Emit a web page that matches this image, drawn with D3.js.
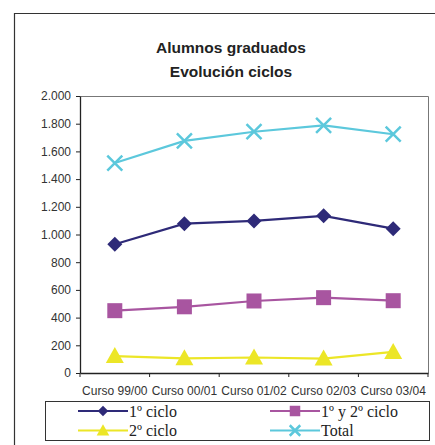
<!DOCTYPE html>
<html>
<head>
<meta charset="utf-8" />
<script src="https://cdn.jsdelivr.net/npm/d3@7"></script>
<style>
  body { margin: 0; background: #fff; }
  svg { display: block; }
</style>
</head>
<body>
<svg id="chart" width="435" height="445"></svg>
<script>
var cursos = ['Curso 99/00', 'Curso 00/01', 'Curso 01/02', 'Curso 02/03', 'Curso 03/04'];
var ciclo1 = [930, 1078, 1098, 1135, 1042];
var ciclo12 = [450, 478, 520, 544, 522];
var ciclo2 = [122, 106, 112, 104, 152];
var total = [1516, 1676, 1742, 1788, 1724];
var yTicks = [0, 200, 400, 600, 800, 1000, 1200, 1400, 1600, 1800, 2000];

var series = [
  {name: '1º ciclo', values: ciclo1, color: '#2e2a78', shape: 'diamond'},
  {name: '1º y 2º ciclo', values: ciclo12, color: '#a855a0', shape: 'square'},
  {name: '2º ciclo', values: ciclo2, color: '#ece627', shape: 'triangle'},
  {name: 'Total', values: total, color: '#5cc8dc', shape: 'cross'}
];

var plotL = 80, plotR = 428, plotT = 96, plotB = 373;
var svg = d3.select('#chart');
var sans = 'Arial, "Liberation Sans", sans-serif';

// outer frame
svg.append('path').attr('d', 'M14.5,450 V13.5 H440')
  .attr('fill', 'none').attr('stroke', '#333').attr('stroke-width', 1.2);

// title
svg.append('text').attr('x', 231).attr('y', 53).attr('text-anchor', 'middle')
  .attr('font-family', sans).attr('font-size', 15.5).attr('font-weight', 'bold').attr('fill', '#222')
  .text('Alumnos graduados');
svg.append('text').attr('x', 231).attr('y', 77).attr('text-anchor', 'middle')
  .attr('font-family', sans).attr('font-size', 15.5).attr('font-weight', 'bold').attr('fill', '#222')
  .text('Evolución ciclos');

var x = d3.scaleBand().domain(cursos).range([plotL, plotR]);
var y = d3.scaleLinear().domain([0, 2000]).range([plotB, plotT]);

// plot border
svg.append('path').attr('d', 'M' + plotL + ',' + (plotT + 0.5) + ' H' + (plotR + 0.5) + ' V' + plotB)
  .attr('fill', 'none').attr('stroke', '#777').attr('stroke-width', 1);

var fmt = function(d) { return d3.format(',')(d).replace(/,/g, '.'); };

var yAxis = svg.append('g').attr('transform', 'translate(' + plotL + ',0)')
  .call(d3.axisLeft(y).tickValues(yTicks).tickSize(4).tickSizeOuter(0).tickPadding(5).tickFormat(fmt));
yAxis.select('.domain').attr('stroke', '#222').attr('stroke-width', 1.3);
yAxis.selectAll('.tick line').attr('stroke', '#222');
yAxis.selectAll('text').attr('font-family', sans).attr('font-size', 12).attr('fill', '#333');

var xAxis = svg.append('g').attr('transform', 'translate(0,' + plotB + ')')
  .call(d3.axisBottom(x).tickSize(0).tickPadding(13));
xAxis.select('.domain').attr('stroke', '#222').attr('stroke-width', 1.3);
xAxis.selectAll('text').attr('font-family', sans).attr('font-size', 12).attr('fill', '#333');
// tick marks between categories
xAxis.selectAll('.sep').data(cursos.concat(['end'])).enter().append('line')
  .attr('x1', function(d, i) { return plotL + i * x.bandwidth(); })
  .attr('x2', function(d, i) { return plotL + i * x.bandwidth(); })
  .attr('y1', 0).attr('y2', 4).attr('stroke', '#222');

function cx(i) { return x(cursos[i]) + x.bandwidth() / 2; }

function marker(g, shape, color, px, py, k) {
  if (shape === 'diamond') {
    var r = 7.5 * k;
    g.append('path').attr('d', 'M' + px + ',' + (py - r) + ' L' + (px + r) + ',' + py + ' L' + px + ',' + (py + r) + ' L' + (px - r) + ',' + py + 'Z')
      .attr('fill', color);
  } else if (shape === 'square') {
    var h = 7.5 * k;
    g.append('rect').attr('x', px - h).attr('y', py - h).attr('width', 2 * h).attr('height', 2 * h).attr('fill', color);
  } else if (shape === 'triangle') {
    var w = 9 * k;
    g.append('path').attr('d', 'M' + px + ',' + (py - 9 * k) + ' L' + (px + w) + ',' + (py + 7 * k) + ' L' + (px - w) + ',' + (py + 7 * k) + 'Z')
      .attr('fill', color);
  } else {
    var c = 7.5 * k;
    g.append('path').attr('d', 'M' + (px - c) + ',' + (py - c) + ' L' + (px + c) + ',' + (py + c) + ' M' + (px + c) + ',' + (py - c) + ' L' + (px - c) + ',' + (py + c))
      .attr('stroke', color).attr('stroke-width', 2.5).attr('fill', 'none');
  }
}

var line = d3.line().x(function(d, i) { return cx(i); }).y(function(d) { return y(d); });

series.forEach(function(s) {
  var g = svg.append('g');
  g.append('path').datum(s.values).attr('d', line).attr('fill', 'none')
    .attr('stroke', s.color).attr('stroke-width', 2.2);
  s.values.forEach(function(v, i) { marker(g, s.shape, s.color, cx(i), y(v), 1); });
});

// legend
svg.append('rect').attr('x', 45.5).attr('y', 401.5).attr('width', 384).attr('height', 39)
  .attr('fill', '#fff').attr('stroke', '#333').attr('stroke-width', 1);
series.forEach(function(s, i) {
  var lx = i % 2 === 0 ? 78 : 270;
  var ly = i < 2 ? 411 : 430.5;
  var g = svg.append('g');
  g.append('line').attr('x1', lx).attr('x2', lx + 50).attr('y1', ly).attr('y2', ly)
    .attr('stroke', s.color).attr('stroke-width', 2.2);
  marker(g, s.shape, s.color, lx + 25, ly, 0.7);
  g.append('text').attr('x', lx + 51).attr('y', ly + 5.5)
    .attr('font-family', '"Liberation Serif", "DejaVu Serif", serif').attr('font-size', 16).attr('fill', '#222')
    .text(s.name);
});
</script>
</body>
</html>
